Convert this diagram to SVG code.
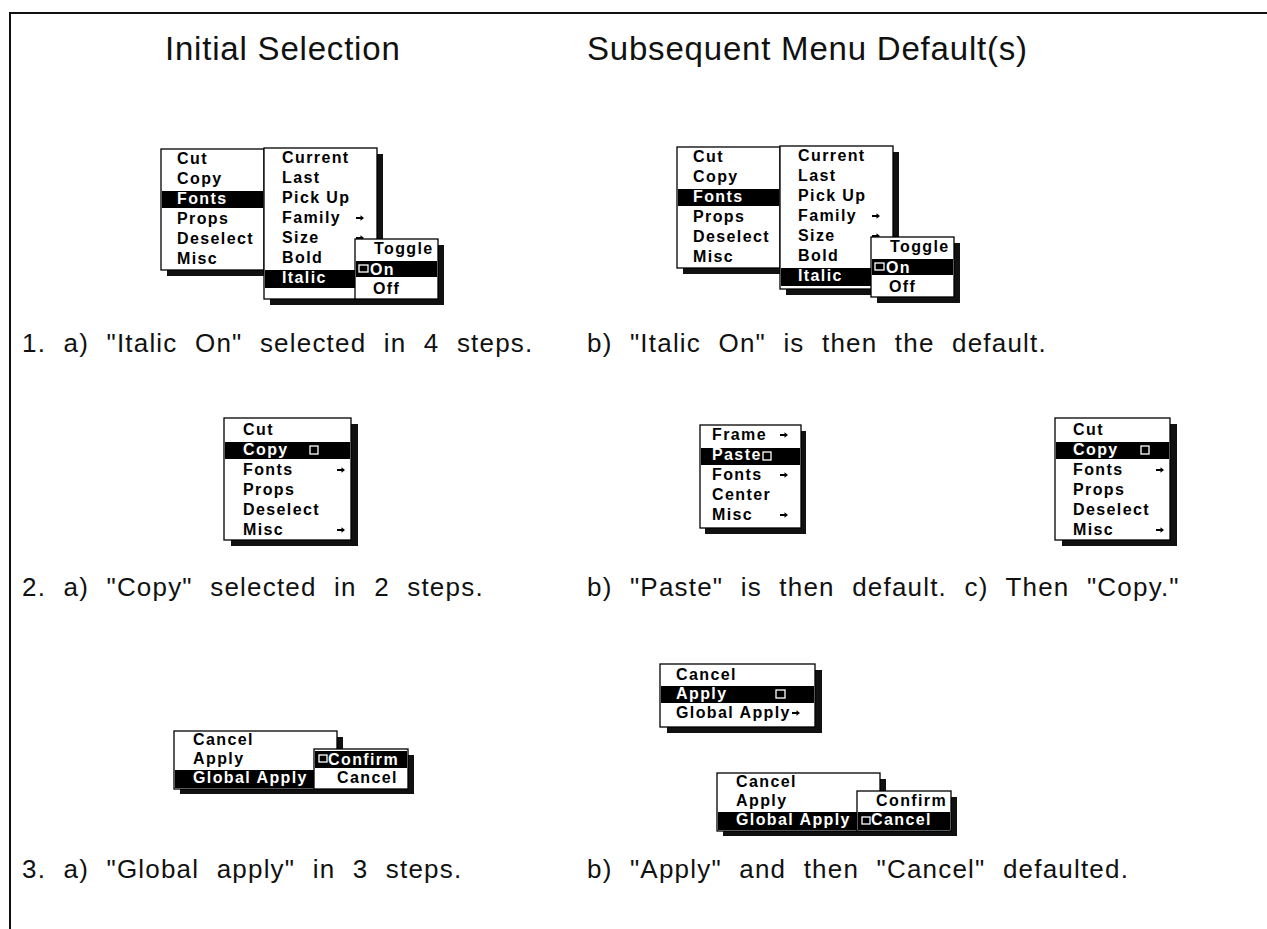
<svg xmlns="http://www.w3.org/2000/svg" width="1267" height="929" viewBox="0 0 1267 929">
<defs>
<style>
.t{font-family:"Liberation Sans",Arial,Helvetica,sans-serif;font-size:33px;letter-spacing:0.8px;fill:#111}
.c{font-family:"Liberation Sans",Arial,Helvetica,sans-serif;font-size:26px;letter-spacing:1.2px;word-spacing:9px;fill:#111}
.m{font-family:"Liberation Sans",Arial,Helvetica,sans-serif;font-size:16px;font-weight:bold;letter-spacing:1.4px;fill:#000}
.w{fill:#fff}
.box{fill:#fff;stroke:#000;stroke-width:1.3}
.sh{fill:#111}
.hl{fill:#000}
.ck{fill:none;stroke:#fff;stroke-width:1.3}
.frame{fill:none;stroke:#111;stroke-width:2}
</style>
<path id="ar" d="M0,-0.9H4.5V-2.8L8,0L4.5,2.8V0.9H0Z"/>
</defs>
<rect width="1267" height="929" fill="#fff"/>
<path class="frame" d="M10,929V13H1267"/>

<!-- column headings -->
<g id="headings">
<text class="t" x="165" y="60">Initial Selection</text>
<text class="t" x="587" y="60">Subsequent Menu Default(s)</text>
</g>

<!-- 1a: cascading Fonts > Italic > On -->
<g id="menu-1a">
<rect class="sh" x="167" y="155" width="103" height="121"/>
<rect class="box" x="161" y="149" width="103" height="121"/>
<rect class="hl" x="162" y="191" width="101" height="17"/>
<text class="m" x="177" y="164">Cut</text>
<text class="m" x="177" y="184">Copy</text>
<text class="m w" x="177" y="204">Fonts</text>
<text class="m" x="177" y="224">Props</text>
<text class="m" x="177" y="244">Deselect</text>
<text class="m" x="177" y="264">Misc</text>
<rect class="sh" x="270" y="154" width="113" height="151"/>
<rect class="box" x="264" y="148" width="113" height="151"/>
<rect class="hl" x="265" y="270" width="92" height="18"/>
<text class="m" x="282" y="163">Current</text>
<text class="m" x="282" y="183">Last</text>
<text class="m" x="282" y="203">Pick Up</text>
<text class="m" x="282" y="223">Family</text>
<text class="m" x="282" y="243">Size</text>
<text class="m" x="282" y="263">Bold</text>
<text class="m w" x="282" y="283">Italic</text>
<use href="#ar" x="356" y="218"/>
<use href="#ar" x="356" y="238"/>
<rect class="sh" x="361" y="245" width="83" height="60"/>
<rect class="box" x="355" y="239" width="83" height="60"/>
<rect class="hl" x="356" y="261" width="81" height="16"/>
<rect class="ck" x="359" y="265" width="9" height="7"/>
<text class="m" x="374" y="254">Toggle</text>
<text class="m w" x="370" y="275">On</text>
<text class="m" x="373" y="294">Off</text>
</g>

<!-- 1b: same cascade, On now the default -->
<g id="menu-1b" transform="translate(516,-2)">
<rect class="sh" x="167" y="155" width="103" height="121"/>
<rect class="box" x="161" y="149" width="103" height="121"/>
<rect class="hl" x="162" y="191" width="101" height="17"/>
<text class="m" x="177" y="164">Cut</text>
<text class="m" x="177" y="184">Copy</text>
<text class="m w" x="177" y="204">Fonts</text>
<text class="m" x="177" y="224">Props</text>
<text class="m" x="177" y="244">Deselect</text>
<text class="m" x="177" y="264">Misc</text>
<rect class="sh" x="270" y="154" width="113" height="143"/>
<rect class="box" x="264" y="148" width="113" height="143"/>
<rect class="hl" x="265" y="270" width="92" height="18"/>
<text class="m" x="282" y="163">Current</text>
<text class="m" x="282" y="183">Last</text>
<text class="m" x="282" y="203">Pick Up</text>
<text class="m" x="282" y="223">Family</text>
<text class="m" x="282" y="243">Size</text>
<text class="m" x="282" y="263">Bold</text>
<text class="m w" x="282" y="283">Italic</text>
<use href="#ar" x="356" y="218"/>
<use href="#ar" x="356" y="238"/>
<rect class="sh" x="361" y="245" width="83" height="60"/>
<rect class="box" x="355" y="239" width="83" height="60"/>
<rect class="hl" x="356" y="261" width="81" height="16"/>
<rect class="ck" x="359" y="265" width="9" height="7"/>
<text class="m" x="374" y="254">Toggle</text>
<text class="m w" x="370" y="275">On</text>
<text class="m" x="373" y="294">Off</text>
</g>

<!-- 2a: Copy selected -->
<g id="menu-2a">
<rect class="sh" x="231" y="424" width="127" height="122"/>
<rect class="box" x="224" y="418" width="127" height="122"/>
<rect class="hl" x="225" y="442" width="125" height="17"/>
<text class="m" x="243" y="435">Cut</text>
<text class="m w" x="243" y="455">Copy</text>
<rect class="ck" x="310" y="446" width="8" height="8"/>
<text class="m" x="243" y="475">Fonts</text>
<text class="m" x="243" y="495">Props</text>
<text class="m" x="243" y="515">Deselect</text>
<text class="m" x="243" y="535">Misc</text>
<use href="#ar" x="337" y="470"/>
<use href="#ar" x="337" y="530"/>
</g>

<!-- 2b: Paste becomes the default -->
<g id="menu-2b">
<rect class="sh" x="705" y="431" width="101" height="103"/>
<rect class="box" x="700" y="425" width="101" height="103"/>
<rect class="hl" x="701" y="448" width="99" height="17"/>
<text class="m" x="712" y="440">Frame</text>
<text class="m w" x="712" y="460">Paste</text>
<rect class="ck" x="763" y="452" width="8" height="8"/>
<text class="m" x="712" y="480">Fonts</text>
<text class="m" x="712" y="500">Center</text>
<text class="m" x="712" y="520">Misc</text>
<use href="#ar" x="780" y="435"/>
<use href="#ar" x="780" y="475"/>
<use href="#ar" x="780" y="515"/>
</g>

<!-- 2c: then Copy -->
<g id="menu-2c">
<rect class="sh" x="1062" y="424" width="115" height="122"/>
<rect class="box" x="1055" y="418" width="115" height="122"/>
<rect class="hl" x="1056" y="442" width="113" height="17"/>
<text class="m" x="1073" y="435">Cut</text>
<text class="m w" x="1073" y="455">Copy</text>
<rect class="ck" x="1141" y="446" width="8" height="8"/>
<text class="m" x="1073" y="475">Fonts</text>
<text class="m" x="1073" y="495">Props</text>
<text class="m" x="1073" y="515">Deselect</text>
<text class="m" x="1073" y="535">Misc</text>
<use href="#ar" x="1156" y="470"/>
<use href="#ar" x="1156" y="530"/>
</g>

<!-- 3a: Global Apply > Confirm -->
<g id="menu-3a">
<rect class="sh" x="180" y="737" width="163" height="57"/>
<rect class="box" x="174" y="731" width="163" height="58"/>
<rect class="hl" x="175" y="770" width="140" height="18"/>
<text class="m" x="193" y="745">Cancel</text>
<text class="m" x="193" y="764">Apply</text>
<text class="m w" x="193" y="783">Global Apply</text>
<rect class="sh" x="320" y="755" width="94" height="39"/>
<rect class="box" x="314" y="749" width="94" height="40"/>
<rect class="hl" x="315" y="751" width="92" height="17"/>
<rect class="ck" x="319" y="755" width="8" height="7"/>
<text class="m w" x="328" y="765" letter-spacing="0.6">Confirm</text>
<text class="m" x="337" y="783">Cancel</text>
</g>

<!-- 3b: Apply defaulted -->
<g id="menu-3b-apply">
<rect class="sh" x="667" y="670" width="155" height="63"/>
<rect class="box" x="660" y="664" width="155" height="63"/>
<rect class="hl" x="661" y="686" width="153" height="17"/>
<text class="m" x="676" y="680">Cancel</text>
<text class="m w" x="676" y="699">Apply</text>
<rect class="ck" x="776" y="690" width="9" height="8"/>
<text class="m" x="676" y="718">Global Apply</text>
<use href="#ar" x="792" y="713"/>
</g>

<!-- 3b: then Cancel defaulted -->
<g id="menu-3b-cancel">
<rect class="sh" x="723" y="779" width="163" height="57"/>
<rect class="box" x="717" y="773" width="163" height="58"/>
<rect class="hl" x="718" y="812" width="140" height="18"/>
<text class="m" x="736" y="787">Cancel</text>
<text class="m" x="736" y="806">Apply</text>
<text class="m w" x="736" y="825">Global Apply</text>
<rect class="sh" x="863" y="797" width="94" height="39"/>
<rect class="box" x="857" y="791" width="94" height="40"/>
<rect class="hl" x="858" y="812" width="92" height="18"/>
<text class="m" x="876" y="806" letter-spacing="0.6">Confirm</text>
<rect class="ck" x="862" y="817" width="8" height="7"/>
<text class="m w" x="871" y="825">Cancel</text>
</g>

<!-- captions -->
<g id="captions">
<text class="c" x="22" y="352">1. a) "Italic On" selected in 4 steps.</text>
<text class="c" x="587" y="352">b) "Italic On" is then the default.</text>
<text class="c" x="22" y="596">2. a) "Copy" selected in 2 steps.</text>
<text class="c" x="587" y="596">b) "Paste" is then default.  c) Then "Copy."</text>
<text class="c" x="22" y="878">3. a) "Global apply" in 3 steps.</text>
<text class="c" x="587" y="878">b) "Apply" and then "Cancel" defaulted.</text>
</g>
</svg>
